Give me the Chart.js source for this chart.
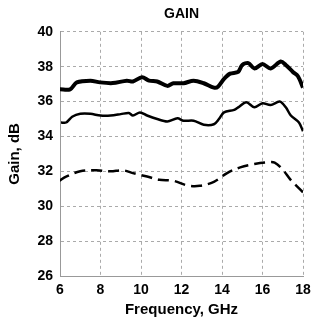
<!DOCTYPE html>
<html><head><meta charset="utf-8">
<script src="https://cdn.jsdelivr.net/npm/chart.js@4/dist/chart.umd.min.js"></script>
<style>html,body{margin:0;padding:0;background:#fff}#wrap{width:312px;height:323px}</style>
</head><body><div id="wrap"><canvas id="c"></canvas></div>
<script>
const chartTitle = "GAIN";
const xTitle = "Frequency, GHz";
const yTitle = "Gain, dB";
const xTicks = [6, 8, 10, 12, 14, 16, 18];
const yTicks = [26, 28, 30, 32, 34, 36, 38, 40];

const freqTop = [6.0, 6.5, 6.83, 7.5, 7.98, 8.6, 9.3, 9.6, 10.05, 10.4, 10.8, 11.3, 11.6, 12.1, 12.6, 13.1, 13.6, 13.8, 14.1, 14.4, 14.8, 15.0, 15.3, 15.6, 16.0, 16.4, 16.9, 17.15, 17.5, 17.75, 18.0];
const gainTop = [36.7, 36.7, 37.1, 37.2, 37.1, 37.06, 37.2, 37.15, 37.4, 37.2, 37.15, 36.9, 37.05, 37.05, 37.2, 37.05, 36.8, 36.85, 37.3, 37.6, 37.7, 38.1, 38.2, 37.9, 38.15, 37.9, 38.3, 38.1, 37.7, 37.45, 36.8];

const freqMid = [6.05, 6.3, 6.6, 7.0, 7.5, 8.0, 8.5, 9.0, 9.4, 9.6, 9.95, 10.3, 10.8, 11.3, 11.8, 12.1, 12.6, 13.1, 13.6, 13.85, 14.1, 14.6, 14.8, 15.2, 15.6, 16.0, 16.4, 16.85, 17.15, 17.4, 17.8, 18.0];
const gainMid = [34.8, 34.8, 35.13, 35.3, 35.3, 35.2, 35.2, 35.28, 35.35, 35.2, 35.38, 35.2, 35.0, 34.86, 35.04, 34.9, 34.9, 34.67, 34.7, 35.0, 35.38, 35.52, 35.67, 35.96, 35.67, 35.9, 35.8, 36.0, 35.67, 35.2, 34.8, 34.3];

const freqLow = [5.97, 6.3, 7.0, 7.8, 8.5, 9.1, 9.6, 10.3, 10.9, 11.6, 12.3, 12.9, 13.6, 14.25, 14.9, 15.6, 16.25, 16.6, 17.0, 17.4, 18.0];
const gainLow = [31.46, 31.7, 32.0, 32.06, 32.0, 32.06, 31.9, 31.7, 31.52, 31.46, 31.19, 31.17, 31.4, 31.9, 32.23, 32.42, 32.52, 32.5, 32.1, 31.5, 30.8];

const pts = (xs, ys) => xs.map((x, i) => ({x, y: ys[i]}));
const FONT = "'Liberation Sans', Arial, Helvetica, sans-serif";

new Chart(document.getElementById('c'), {
  type: 'line',
  data: {
    datasets: [
      {data: pts(freqTop, gainTop), borderColor: '#000', borderWidth: 4, pointRadius: 0, tension: 0.3, fill: false},
      {data: pts(freqMid, gainMid), borderColor: '#000', borderWidth: 2.5, pointRadius: 0, tension: 0.3, fill: false},
      {data: pts(freqLow, gainLow), borderColor: '#000', borderWidth: 2.5, borderDash: [11, 6], pointRadius: 0, tension: 0.35, fill: false}
    ]
  },
  options: {
    responsive: true,
    maintainAspectRatio: false,
    animation: false,
    layout: {padding: {left: 2, right: 0, top: 0, bottom: 0}},
    plugins: {
      legend: {display: false},
      tooltip: {enabled: false},
      title: {display: true, fullSize: false, text: chartTitle, color: '#000', font: {family: FONT, size: 14, weight: 'bold'}, padding: {top: 6, bottom: 9}}
    },
    scales: {
      x: {
        type: 'linear', min: 6, max: 18,
        afterBuildTicks: s => { s.ticks = xTicks.map(v => ({value: v})); },
        afterFit: s => { s.height = 47; s.paddingRight = 9; s.paddingLeft = 0; },
        grid: {color: '#aaa', lineWidth: 1, drawTicks: false},
        border: {color: '#999', dash: [3, 3]},
        ticks: {color: '#000', padding: 6, font: {family: FONT, size: 14, weight: 'bold'}, maxRotation: 0},
        title: {display: true, text: xTitle, color: '#000', font: {family: FONT, size: 15, weight: 'bold'}}
      },
      y: {
        min: 26, max: 40,
        afterBuildTicks: s => { s.ticks = yTicks.map(v => ({value: v})); },
        afterFit: s => { s.width = 58; },
        grid: {color: '#aaa', lineWidth: 1, drawTicks: false},
        border: {color: '#999', dash: [3, 3]},
        ticks: {color: '#000', padding: 7, font: {family: FONT, size: 14, weight: 'bold'}},
        title: {display: true, text: yTitle, color: '#000', font: {family: FONT, size: 15, weight: 'bold'}}
      }
    }
  }
});
</script></body></html>
